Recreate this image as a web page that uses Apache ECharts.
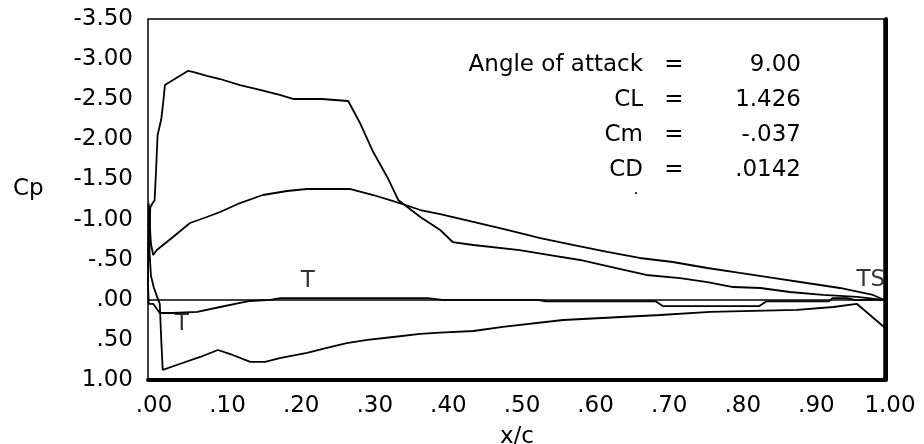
<!DOCTYPE html>
<html>
<head>
<meta charset="utf-8">
<script src="https://cdn.jsdelivr.net/npm/echarts@6/dist/echarts.min.js"></script>
<style>
html,body{margin:0;padding:0;background:#fff;}
#chart{width:924px;height:444px;}
</style>
</head>
<body>
<div id="chart"></div>
<script>
// ---- data ----
const yTickLabels = ['-3.50','-3.00','-2.50','-2.00','-1.50','-1.00','-.50','.00','.50','1.00'];
const xTickLabels = ['.00','.10','.20','.30','.40','.50','.60','.70','.80','.90','1.00'];

// curve A (sharp, with separation plateau) upper surface, TE -> LE
const aUpperX  = [1.0, 0.963, 0.917, 0.872, 0.832, 0.795, 0.760, 0.723, 0.677, 0.636, 0.587, 0.546, 0.505, 0.442, 0.414, 0.397, 0.370, 0.340, 0.325, 0.306, 0.288, 0.272, 0.236, 0.197, 0.179, 0.148, 0.125, 0.098, 0.080, 0.061, 0.054, 0.034, 0.023, 0.021, 0.018, 0.013, 0.011, 0.009, 0.006, 0.003, 0.002];
const aUpperCp = [0.0, -0.035, -0.06, -0.097, -0.147, -0.159, -0.221, -0.271, -0.309, -0.396, -0.496, -0.558, -0.62, -0.683, -0.72, -0.87, -1.032, -1.244, -1.531, -1.842, -2.204, -2.478, -2.503, -2.503, -2.553, -2.627, -2.677, -2.752, -2.79, -2.84, -2.852, -2.74, -2.677, -2.49, -2.25, -2.05, -1.62, -1.24, -1.2, -1.15, -0.6];
// curve A lower surface, LE -> TE
const aLowerX  = [0.002, 0.004, 0.008, 0.013, 0.016, 0.018, 0.020, 0.039, 0.071, 0.095, 0.115, 0.139, 0.159, 0.179, 0.216, 0.243, 0.270, 0.298, 0.333, 0.370, 0.397, 0.442, 0.482, 0.564, 0.696, 0.764, 0.882, 0.931, 0.963, 1.0];
const aLowerCp = [-0.6, -0.3, -0.15, -0.02, 0.05, 0.5, 0.875, 0.813, 0.713, 0.626, 0.688, 0.775, 0.775, 0.726, 0.663, 0.601, 0.539, 0.501, 0.464, 0.426, 0.41, 0.389, 0.339, 0.252, 0.19, 0.152, 0.127, 0.09, 0.05, 0.34];

// curve B (smooth) upper surface, TE -> LE
const bUpperX  = [1.0, 0.985, 0.940, 0.895, 0.849, 0.804, 0.760, 0.713, 0.668, 0.624, 0.577, 0.533, 0.488, 0.442, 0.397, 0.370, 0.342, 0.306, 0.274, 0.216, 0.189, 0.156, 0.125, 0.098, 0.080, 0.057, 0.034, 0.012, 0.007, 0.004, 0.002, 0.001, 0.0];
const bUpperCp = [0.0, -0.06, -0.147, -0.209, -0.272, -0.334, -0.396, -0.471, -0.521, -0.596, -0.683, -0.77, -0.87, -0.97, -1.069, -1.119, -1.206, -1.306, -1.381, -1.381, -1.356, -1.306, -1.206, -1.094, -1.032, -0.957, -0.783, -0.62, -0.558, -0.7, -1.0, -1.2, -0.2];
// curve B lower surface, LE -> TE
const bLowerX  = [0.0, 0.001, 0.007, 0.016, 0.034, 0.067, 0.098, 0.125, 0.139, 0.166, 0.180, 0.380, 0.400, 0.530, 0.540, 0.690, 0.700, 0.830, 0.840, 0.925, 0.930, 0.950, 0.960, 1.0];
const bLowerCp = [-0.2, 0.05, 0.05, 0.165, 0.165, 0.152, 0.09, 0.04, 0.015, 0.0, -0.02, -0.02, 0.0, 0.0, 0.02, 0.02, 0.08, 0.08, 0.02, 0.02, -0.02, -0.02, 0.0, 0.0];

// transition / separation markers
const markerX    = [0.217, 0.046, 0.982];
const markerCp   = [-0.23, 0.30, -0.25];
const markerText = ['T', 'T', 'TS'];

// stray dot below the coefficient table
const dotX  = [0.663];
const dotCp = [-1.33];

// coefficient table
const statNames  = ['Angle of attack', 'CL', 'Cm', 'CD'];
const statValues = ['9.00', '1.426', '-.037', '.0142'];

// ---- chart ----
const FONT = 'DejaVu Sans';
const zip = (xs, ys) => xs.map((x, i) => [x, ys[i]]);
const lineSeries = (name, xs, ys) => ({
  name, type: 'line', data: zip(xs, ys), showSymbol: false, symbol: 'none',
  lineStyle: { color: '#000', width: 1.8 }, silent: true, animation: false, z: 3
});

const graphics = [
  { type: 'text', left: 13, top: 178, style: { text: 'Cp', font: '23px ' + FONT, fill: '#000' } },
  { type: 'text', x: 517, y: 437, style: { text: 'x/c', font: '23px ' + FONT, fill: '#000', textAlign: 'center', textVerticalAlign: 'middle' } }
];
const rowY = [65, 100, 135, 170];
statNames.forEach((n, i) => {
  graphics.push({ type: 'text', x: 643, y: rowY[i], style: { text: n, font: '23px ' + FONT, fill: '#000', textAlign: 'right', textVerticalAlign: 'middle' } });
  graphics.push({ type: 'text', x: 674, y: rowY[i], style: { text: '=', font: '23px ' + FONT, fill: '#000', textAlign: 'center', textVerticalAlign: 'middle' } });
  graphics.push({ type: 'text', x: 801, y: rowY[i], style: { text: statValues[i], font: '23px ' + FONT, fill: '#000', textAlign: 'right', textVerticalAlign: 'middle' } });
});

const chart = echarts.init(document.getElementById('chart'), null, { renderer: 'canvas' });
chart.setOption({
  animation: false,
  backgroundColor: '#fff',
  grid: { left: 148, top: 19, width: 736, height: 361, show: true, borderColor: '#000', borderWidth: 1.5, containLabel: false },
  xAxis: {
    type: 'value', min: 0, max: 1, interval: 0.1,
    axisLine: { show: true, onZero: false, lineStyle: { color: '#000', width: 4 } },
    axisTick: { show: false }, splitLine: { show: false },
    axisLabel: {
      color: '#000', fontFamily: FONT, fontSize: 23, margin: 15, padding: [0, 0, 0, 12],
      formatter: v => xTickLabels[Math.round(v * 10)]
    }
  },
  yAxis: [{
    type: 'value', min: -3.5, max: 1, interval: 0.5, inverse: true,
    axisLine: { show: false }, axisTick: { show: false }, splitLine: { show: false },
    axisLabel: {
      color: '#000', fontFamily: FONT, fontSize: 23, margin: 15, padding: [8, 0, 0, 0],
      formatter: v => yTickLabels[Math.round((v + 3.5) / 0.5)]
    }
  }, {
    type: 'value', min: -3.5, max: 1, interval: 0.5, inverse: true, position: 'right', offset: 2,
    axisLine: { show: true, onZero: false, lineStyle: { color: '#000', width: 4 } },
    axisTick: { show: false }, splitLine: { show: false }, axisLabel: { show: false }
  }],
  series: [
    Object.assign(lineSeries('A upper', aUpperX, aUpperCp), {
      markLine: { silent: true, symbol: 'none', label: { show: false }, animation: false,
        lineStyle: { color: '#000', width: 1.6, type: 'solid' }, data: [{ yAxis: 0 }] }
    }),
    lineSeries('A lower', aLowerX, aLowerCp),
    lineSeries('B upper', bUpperX, bUpperCp),
    lineSeries('B lower', bLowerX, bLowerCp),
    {
      name: 'markers', type: 'scatter', symbolSize: 0, silent: true, animation: false, z: 4,
      data: zip(markerX, markerCp).map((d, i) => ({ value: d, label: { formatter: markerText[i] } })),
      label: { show: true, position: 'inside', color: '#000', fontFamily: FONT, fontSize: 23 }
    },
    {
      name: 'dot', type: 'scatter', symbol: 'rect', symbolSize: 2, silent: true, animation: false,
      itemStyle: { color: '#000' }, data: zip(dotX, dotCp)
    }
  ],
  graphic: graphics
});
</script>
</body>
</html>
